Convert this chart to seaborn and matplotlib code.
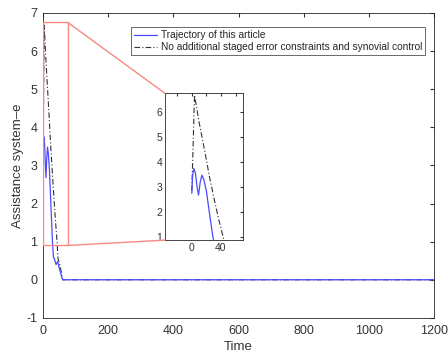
import numpy as np
import pandas as pd
import matplotlib
matplotlib.use('Agg')
import matplotlib.pyplot as plt
import seaborn as sns
from matplotlib.patches import Rectangle, ConnectionPatch

# values
t_ours = [0, 1, 2.8, 5, 7, 9.2, 11.5, 13.8, 16.5, 19.8, 24, 29, 32, 35, 40, 45, 50, 55, 60, 1200]
e_ours = [2.75, 3.45, 3.75, 3.55, 3.05, 2.68, 3.2, 3.48, 3.3, 2.88, 2.0, 1.0, 0.6, 0.55, 0.4, 0.48, 0.3, 0.15, 0.0, 0.0]
t_base = [0, 3.7, 10, 17.5, 24, 31, 37, 43, 46, 50, 55, 60, 1200]
e_base = [2.85, 6.68, 5.6, 4.48, 3.45, 2.48, 1.7, 1.0, 0.55, 0.45, 0.25, 0.0, 0.0]
label_ours = 'Trajectory of this article'
label_base = 'No additional staged error constraints and synovial control'

df = pd.concat([
    pd.DataFrame({'Time': t_base, 'e': e_base, 'method': label_base}),
    pd.DataFrame({'Time': t_ours, 'e': e_ours, 'method': label_ours}),
])

sns.set_style('white')
plt.rcParams['font.family'] = ['Liberation Sans', 'DejaVu Sans']
plt.rcParams['axes.unicode_minus'] = False
plt.rcParams['xtick.direction'] = 'in'
plt.rcParams['ytick.direction'] = 'in'

blue = '#4a4aff'
dark = '#333333'
red = '#f58a80'
txt = '#333333'

fig = plt.figure(figsize=(4.48, 3.6), dpi=100)
ax = fig.add_axes([0.096, 0.117, 0.873, 0.847])


def draw(a, legend):
    sns.lineplot(data=df[df.method == label_base], x='Time', y='e', ax=a, color=dark,
                 lw=0.8, linestyle=(0, (5, 2, 1, 2)), label=label_base if legend else None,
                 estimator=None, sort=False)
    sns.lineplot(data=df[df.method == label_ours], x='Time', y='e', ax=a, color=blue,
                 lw=0.9, label=label_ours if legend else None, estimator=None, sort=False)


draw(ax, True)
ax.set_xlim(0, 1200)
ax.set_ylim(-1, 7)
ax.set_xticks(np.arange(0, 1201, 200))
ax.set_yticks(np.arange(-1, 8, 1))
ax.set_xlabel('Time', fontsize=9.5, color=txt, labelpad=3)
ax.set_ylabel('Assistance system\u2013e', fontsize=9.5, color=txt, labelpad=2)
ax.tick_params(labelsize=9, colors=txt, length=3, top=True, right=True)
ax.tick_params(axis='x', pad=5)
ax.tick_params(axis='y', pad=4)
for s in ax.spines.values():
    s.set_color('#262626')
    s.set_linewidth(0.6)

h, l = ax.get_legend_handles_labels()
order = [l.index(label_ours), l.index(label_base)]
leg = ax.legend([h[i] for i in order], [l[i] for i in order], loc='upper right',
                bbox_to_anchor=(0.99, 0.97), fontsize=7.3, fancybox=False, frameon=True,
                handlelength=2.2, handletextpad=0.4, borderpad=0.3, labelspacing=0.2)
leg.get_frame().set_edgecolor('#262626')
leg.get_frame().set_linewidth(0.6)

# zoom rectangle on the main axes
x0, x1, y0, y1 = 0, 76, 0.9, 6.75
ax.add_patch(Rectangle((x0, y0), x1 - x0, y1 - y0, fill=False, ec=red, lw=1.0, zorder=5))

# inset
axin = fig.add_axes([0.368, 0.333, 0.174, 0.408])
draw(axin, False)
axin.set_xlim(-37, 70)
axin.set_ylim(0.88, 6.76)
axin.set_xticks([-20, 0, 20, 40, 60])
axin.set_xticklabels(['', '0', '', '40', ''])
axin.set_yticks([1, 2, 3, 4, 5, 6])
axin.set_xlabel('')
axin.set_ylabel('')
axin.tick_params(labelsize=7.5, colors=txt, length=2, top=True, right=True, pad=2)
for s in axin.spines.values():
    s.set_color('#262626')
    s.set_linewidth(0.6)

for (xa, ya), (xb, yb) in [((x1, y1), (0, 1)), ((x1, y0), (0, 0))]:
    con = ConnectionPatch(xyA=(xa, ya), coordsA=ax.transData, xyB=(xb, yb),
                          coordsB=axin.transAxes, color=red, lw=1.0)
    fig.add_artist(con)

fig.savefig('out.png', dpi=100)
